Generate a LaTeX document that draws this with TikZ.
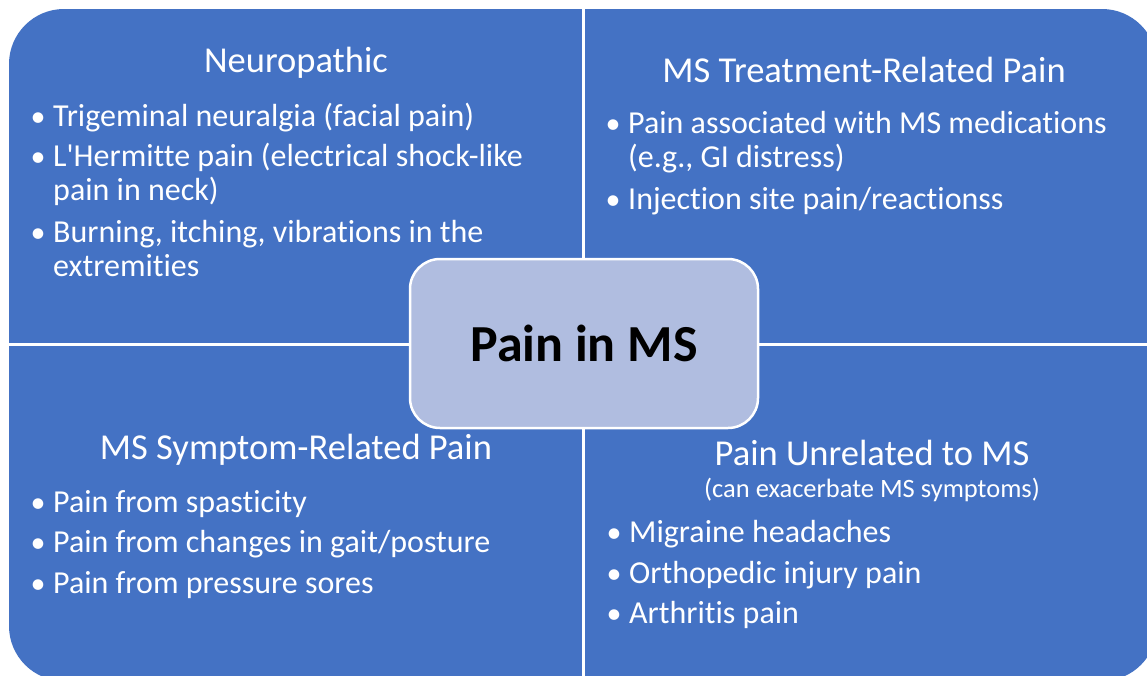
\documentclass[tikz,border=0pt]{standalone}
\usepackage{fontspec}
\setmainfont{Carlito}[Ligatures=NoCommon]
\newfontfamily\calfont{Carlito}[Ligatures=NoCommon]
\definecolor{qblue}{HTML}{4472C4}
\definecolor{cfill}{HTML}{B0BDE0}
\tikzset{
  title/.style={text=white,font=\calfont\fontsize{36.5}{42}\selectfont,anchor=base,inner sep=0pt},
  subtitle/.style={text=white,font=\calfont\fontsize{26.5}{30}\selectfont,anchor=base,inner sep=0pt},
  item/.style={text=white,font=\calfont\fontsize{32}{34}\selectfont,anchor=base west,align=left,inner sep=0pt},
  bul/.style={text=white,font=\calfont\fontsize{30}{34}\selectfont,anchor=base,inner sep=0pt},
  centerbox/.style={fill=cfill,draw=white,line width=2.5pt,rounded corners=30pt,minimum width=348pt,minimum height=169pt,font=\calfont\fontsize{52}{60}\selectfont\bfseries,text=black},
  divider/.style={draw=white,line width=3pt}
}
\begin{document}
\begin{tikzpicture}[x=1pt,y=-1pt]
\useasboundingbox (0,0) rectangle (1147,675);
\clip (0,0) rectangle (1147,675);
\fill[white] (0,0) rectangle (1147,675);
% quadrants background
\fill[qblue,rounded corners=55pt] (9,9) rectangle (1157,681);
\coordinate (vt) at (583.5,0);
\coordinate (vb) at (583.5,690);
\coordinate (hl) at (0,344);
\coordinate (hr) at (1160,344);
\draw[divider] (vt) -- (vb);
\draw[divider] (hl) -- (hr);
% center
\node[centerbox] (c) at (584,343.5) {Pain in MS};
% top-left
\node[title] (t1) at (296,72) {Neuropathic};
\node[bul] (b11) at (38,126) {•};
\node[item] (i11) at (53,126) {Trigeminal neuralgia (facial pain)};
\node[bul] (b12) at (38,166) {•};
\node[item] (i12) at (53,200) {L'Hermitte pain (electrical shock-like\\pain in neck)};
\node[bul] (b13) at (38,242) {•};
\node[item] (i13) at (53,276) {Burning, itching, vibrations in the\\extremities};
% top-right
\node[title] (t2) at (864,82) {MS Treatment-Related Pain};
\node[bul] (b21) at (613,133) {•};
\node[item] (i21) at (628,167) {Pain associated with MS medications\\(e.g., GI distress)};
\node[bul] (b22) at (613,209) {•};
\node[item] (i22) at (628,209) {Injection site pain/reactionss};
% bottom-left
\node[title] (t3) at (296,459) {MS Symptom-Related Pain};
\node[bul] (b31) at (38,512) {•};
\node[item] (i31) at (53,512) {Pain from spasticity};
\node[bul] (b32) at (38,552) {•};
\node[item] (i32) at (53,552) {Pain from changes in gait/posture};
\node[bul] (b33) at (38,593) {•};
\node[item] (i33) at (53,593) {Pain from pressure sores};
% bottom-right
\node[title] (t4) at (872,465) {Pain Unrelated to MS};
\node[subtitle] (s4) at (872,497) {(can exacerbate MS symptoms)};
\node[bul] (b41) at (614,542) {•};
\node[item] (i41) at (629,542) {Migraine headaches};
\node[bul] (b42) at (614,583) {•};
\node[item] (i42) at (629,583) {Orthopedic injury pain};
\node[bul] (b43) at (614,623) {•};
\node[item] (i43) at (629,623) {Arthritis pain};
\end{tikzpicture}
\end{document}
